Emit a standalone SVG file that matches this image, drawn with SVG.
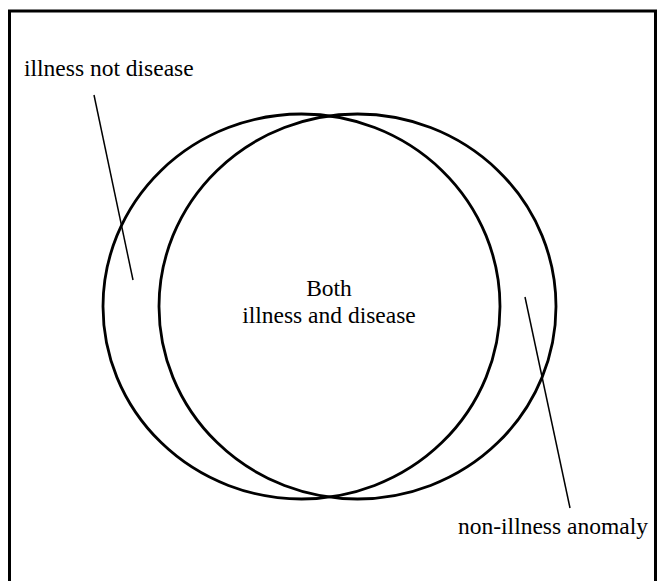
<svg xmlns="http://www.w3.org/2000/svg" width="657" height="581" viewBox="0 0 657 581">
<style>
.frame{fill:none;stroke:#000;stroke-width:3}
.set{fill:none;stroke:#000;stroke-width:2.8}
.lead{fill:none;stroke:#000;stroke-width:1.5}
text{font-family:"Liberation Serif","Times New Roman",serif;font-size:23.5px;fill:#000}
</style>
<rect width="657" height="581" fill="#fff"/>
<path class="frame" d="M9.5,581 V11 H655.5 V581"/>
<g id="illness">
<ellipse class="set" cx="301.5" cy="306.5" rx="198.5" ry="192.5"/>
</g>
<g id="disease">
<ellipse class="set" cx="357.5" cy="306.5" rx="198.5" ry="192.5"/>
</g>
<g id="label-illness-not-disease">
<text x="24" y="76">illness not disease</text>
</g>
<g id="label-both">
<text x="329" y="296" text-anchor="middle">Both</text>
<text x="329" y="323" text-anchor="middle">illness and disease</text>
</g>
<g id="label-non-illness">
<text x="458" y="534">non-illness anomaly</text>
</g>
<g id="connectors">
<line class="lead" x1="94" y1="95" x2="133" y2="280"/>
<line class="lead" x1="525" y1="297" x2="570" y2="508"/>
</g>
</svg>
